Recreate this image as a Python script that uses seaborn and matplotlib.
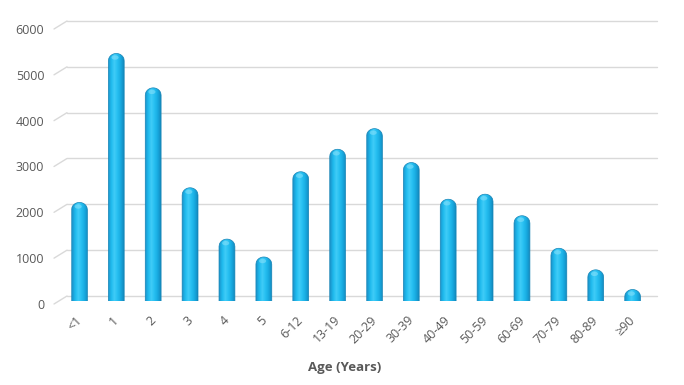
import numpy as np
import pandas as pd
import matplotlib
matplotlib.use('Agg')
import matplotlib.pyplot as plt
import matplotlib.transforms as mtransforms
from matplotlib.path import Path
from matplotlib.patches import PathPatch, Ellipse
from matplotlib.colors import LinearSegmentedColormap
import seaborn as sns

# dados
idades = ['<1', '1', '2', '3', '4', '5', '6-12', '13-19', '20-29', '30-39',
          '40-49', '50-59', '60-69', '70-79', '80-89', '≥90']
casos = [2150, 5400, 4650, 2470, 1350, 960, 2820, 3310, 3760, 3020,
         2220, 2330, 1860, 1150, 680, 250]
y_ticks = [0, 1000, 2000, 3000, 4000, 5000, 6000]

df = pd.DataFrame({'idade': idades, 'casos': casos})

sns.set_theme(style='white')
plt.rcParams['font.family'] = ['Open Sans', 'DejaVu Sans']

cinza = '#595959'
fig = plt.figure(figsize=(6.84, 3.85), dpi=100)
ax = fig.add_axes([0.0892, 0.2182, 0.9518 - 0.0892, 0.9325 - 0.2182])

ax = sns.barplot(data=df, x='idade', y='casos', color='#19b2e6', width=0.43,
                 ax=ax, zorder=3)

ax.set_ylim(0, 6000)
ax.set_yticks(y_ticks)
xlim = ax.get_xlim()


def desloc(dx, dy):
    # deslocamento em pixels
    return mtransforms.ScaledTranslation(dx / 100, dy / 100, fig.dpi_scale_trans)


# grade em "3D": parede do fundo + diagonais
mix = mtransforms.blended_transform_factory(ax.transAxes, ax.transData)
for v in y_ticks:
    ax.plot([0, 1], [v, v], color='#d9d9d9', lw=1.0, zorder=1, clip_on=False,
            transform=mix + desloc(6, 5))
    t0 = (mix + desloc(-7, -3)).transform((0, v))
    t1 = (mix + desloc(6, 5)).transform((0, v))
    ax.plot([t0[0], t1[0]], [t0[1], t1[1]], color='#d9d9d9', lw=1.0,
            transform=None, zorder=1, clip_on=False)

# cilindros
cmap = LinearSegmentedColormap.from_list('cil', ['#1b93c9', '#1fbaee', '#40ccf7',
                                                  '#25bff1', '#18aae0', '#1389bd'])
grad = np.linspace(0, 1, 64).reshape(1, -1)
r = 160   # raio do topo (unidades de dados)
e = 45    # curvatura da base
for p in list(ax.patches):
    x0 = p.get_x()
    w = p.get_width()
    h = p.get_height()
    xc = x0 + w / 2
    p.set_visible(False)
    t = np.linspace(-1, 1, 40)
    base = -e * np.sqrt(1 - t ** 2)
    ytop = max(h - r, 0)
    topo = ytop + min(r, h + e) * np.sqrt(1 - t[::-1] ** 2)
    xs = np.concatenate([xc + t * w / 2, xc + t[::-1] * w / 2])
    ys = np.concatenate([base, topo])
    verts = np.column_stack([xs, ys])
    caminho = Path(np.vstack([verts, verts[:1]]),
                   [Path.MOVETO] + [Path.LINETO] * (len(verts) - 1) + [Path.CLOSEPOLY])
    contorno = PathPatch(caminho, facecolor='none', edgecolor='#1684b6', lw=0.5,
                         transform=ax.transData, zorder=4)
    ax.add_patch(contorno)
    im = ax.imshow(grad, cmap=cmap, extent=[x0, x0 + w, -e, h + 10],
                   aspect='auto', zorder=3, origin='lower')
    im.set_clip_path(contorno)
    # brilho no topo
    ax.add_patch(Ellipse((xc - w * 0.08, max(h - r * 0.55, 0)),
                         w * 0.45, min(r * 0.6, h + e),
                         facecolor='#8ae2fb', alpha=0.55,
                         edgecolor='none', zorder=4))

ax.set_xlim(xlim)
ax.set_ylim(0, 6000)

sns.despine(ax=ax, left=True, bottom=True)
ax.tick_params(axis='both', length=0, colors=cinza, labelsize=9)
ax.tick_params(axis='y', pad=12)
ax.tick_params(axis='x', pad=9)
for lab in ax.get_yticklabels():
    lab.set_transform(lab.get_transform() + desloc(0, -3))
for lab in ax.get_xticklabels():
    lab.set_rotation(45)
    lab.set_ha('right')
    lab.set_rotation_mode('anchor')
    lab.set_transform(lab.get_transform() + desloc(-4, 0))
ax.set_ylabel('')
ax.set_xlabel('Age (Years)', fontsize=9.5, fontweight='bold', color=cinza)
ax.xaxis.set_label_coords(0.48, -0.22)

plt.savefig('out.png', dpi=100)
